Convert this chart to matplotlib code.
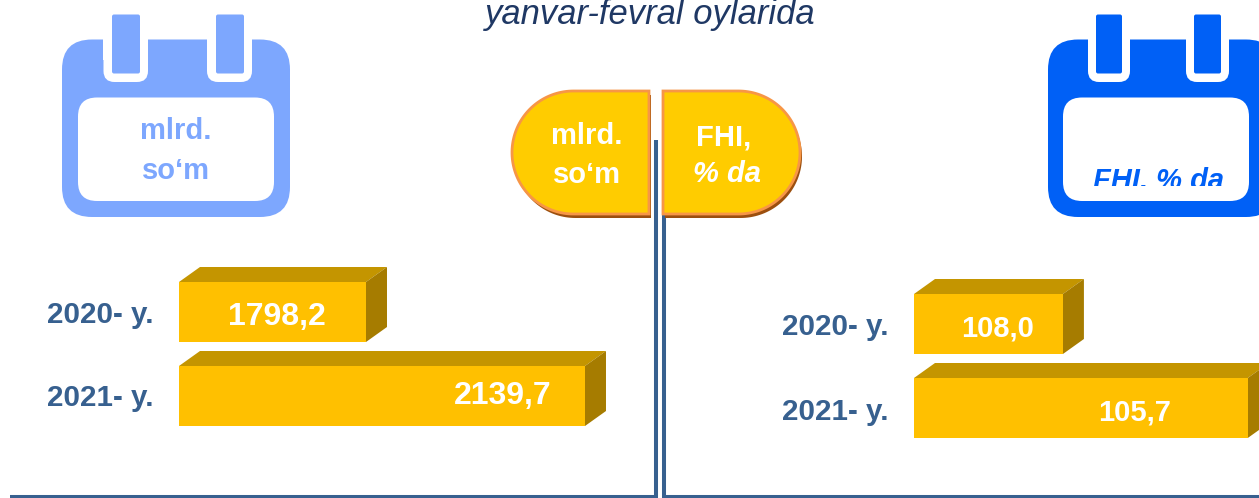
import matplotlib
matplotlib.use("Agg")
import matplotlib.pyplot as plt
import numpy as np
from matplotlib.patches import FancyBboxPatch, Polygon, Rectangle

plt.rcParams['font.family'] = ['Liberation Sans', 'DejaVu Sans']

W, H = 1259, 498

years = ["2020- y.", "2021- y."]
som_values = [1798.2, 2139.7]
som_labels = ["1798,2", "2139,7"]
fhi_values = [108.0, 105.7]
fhi_labels = ["108,0", "105,7"]

GOLD = "#FFC000"
GOLD_TOP = "#C49500"
GOLD_SIDE = "#A67C00"
NAVY = "#37608F"
LIGHT_BLUE = "#7DA7FE"
BLUE = "#0060F6"

fig = plt.figure(figsize=(W / 100, H / 100), dpi=100)

# background axes in pixel coordinates, y goes down like in the picture
bg = fig.add_axes([0, 0, 1, 1], zorder=0)
bg.set_xlim(0, W)
bg.set_ylim(H, 0)
bg.axis("off")


def round_box(x0, y0, x1, y1, r, color, z):
    bg.add_patch(FancyBboxPatch((x0 + r, y0 + r), x1 - x0 - 2 * r, y1 - y0 - 2 * r,
                                boxstyle="round,pad=%f,rounding_size=%f" % (r, r),
                                fc=color, ec="none", zorder=z))


def calendar(x0, x1, notches, rings, inner, color):
    round_box(x0, 39.5, x1, 217, 30, color, 2)
    for n in notches:
        bg.add_patch(Rectangle((n[0], 30), n[1] - n[0], 30, fc="white", ec="none", zorder=3))
        round_box(n[0], 40, n[1], 82, 11, "white", 3)
    for r in rings:
        round_box(r[0], 14.5, r[1], 73.5, 2, color, 4)
    round_box(inner[0], 97.5, inner[1], 201, 19, "white", 3)


def pill(x_flat, x_round, color, edge, shadow):
    # half round shape, flat side towards the centre line
    r = 61.5
    cy = 152.5
    sign = 1 if x_round > x_flat else -1
    cx = x_round - sign * r
    t = np.linspace(-np.pi / 2, np.pi / 2, 80)
    xs = np.r_[x_flat, cx + sign * r * np.cos(t), x_flat]
    ys = np.r_[cy - r, cy + r * np.sin(t), cy + r]
    pts = np.c_[xs, ys]
    bg.add_patch(Polygon(pts + [2, 4], fc=shadow, ec="none", zorder=5))
    bg.add_patch(Polygon(pts, fc=color, ec=edge, lw=2, zorder=6))


def bars(left_px, right_px, top_px, xlim, values, labels, label_x, label_y, year_x, year_y, size):
    ax = fig.add_axes([left_px / W, 1 - (top_px + 168) / H, (right_px - left_px) / W, 168 / H],
                      zorder=1)
    ax.set_xlim(*xlim)
    ax.set_ylim(1.5, -0.5)
    ax.axis("off")
    y = np.arange(len(values))
    ax.barh(y, np.array(values) - xlim[0], left=xlim[0], height=60 / 84, color=GOLD)

    # 3d faces are placed from where the bars ended up on the axes
    for i, v in enumerate(values):
        px, py = ax.transData.transform((v, i))
        py = H - py
        dx, dy = 21, 15
        bg.add_patch(Polygon([(left_px, py - 30), (left_px + dx, py - 30 - dy),
                              (px + dx, py - 30 - dy), (px, py - 30)],
                             fc=GOLD_TOP, ec="none", zorder=1))
        bg.add_patch(Polygon([(px, py - 30), (px + dx, py - 30 - dy),
                              (px + dx, py + 30 - dy), (px, py + 30)],
                             fc=GOLD_SIDE, ec="none", zorder=1))
        ax.text(label_x[i], label_y[i], labels[i], transform=bg.transData, color="white",
                fontsize=size, fontweight="bold", ha="center", va="center", zorder=5)
        bg.text(year_x, year_y[i], years[i], color=NAVY, fontsize=21.3, fontweight="bold",
                ha="left", va="center")


bg.text(650, 24, "yanvar-fevral oylarida", color="#1F3864", fontsize=24.95, style="italic",
        ha="center", va="baseline")

calendar(62, 290, [(103.5, 148), (207, 252)], [(112, 140), (216, 244)], (78, 274), LIGHT_BLUE)
calendar(1048, 1276, [(1088, 1130), (1186, 1229)], [(1096, 1122), (1194, 1221)], (1063, 1249), BLUE)

bg.text(176, 131, "mlrd.", color=LIGHT_BLUE, fontsize=21, fontweight="bold", ha="center", va="center", zorder=7)
bg.text(176, 171, "so‘m", color=LIGHT_BLUE, fontsize=21, fontweight="bold", ha="center", va="center", zorder=7)

# the label on the right calendar is cut off by its text box
t = bg.text(1158.5, 188, "FHI, % da", color=BLUE, fontsize=21, fontweight="bold", style="italic",
            ha="center", va="baseline", zorder=7)
t.set_clip_on(True)
t.set_clip_path(Rectangle((1060, 100), 190, 86, transform=bg.transData))

# right line goes under the pill, left line over it
bg.plot([664, 664, W], [205, 496.5, 496.5], color=NAVY, lw=2.9, solid_joinstyle="miter",
        solid_capstyle="butt", zorder=4)
pill(649, 512, "#FFCC00", "#F79646", "#9C4F0E")
pill(663, 800, "#FFCC00", "#F79646", "#9C4F0E")
bg.plot([10, 656, 656], [496.5, 496.5, 140], color=NAVY, lw=2.9, solid_joinstyle="miter",
        solid_capstyle="butt", zorder=7)

bg.text(587, 136, "mlrd.", color="white", fontsize=21, fontweight="bold", ha="center", va="center", zorder=8)
bg.text(587, 175, "so‘m", color="white", fontsize=21, fontweight="bold", ha="center", va="center", zorder=8)
bg.text(724, 137, "FHI,", color="white", fontsize=21, fontweight="bold", ha="center", va="center", zorder=8)
bg.text(727, 174, "% da", color="white", fontsize=21, fontweight="bold", style="italic", ha="center", va="center", zorder=8)

# the left axis does not start at zero, the right one runs backwards
bars(179, 620, 270, (1506.6, 2194.3), som_values, som_labels, [277, 503], [317, 396], 47, [315, 398], 23)
bars(914, 1259, 282, (109.853, 105.56), fhi_values, fhi_labels, [998, 1135], [328, 412], 782, [327, 412], 21)

fig.savefig("out.png", dpi=100)
